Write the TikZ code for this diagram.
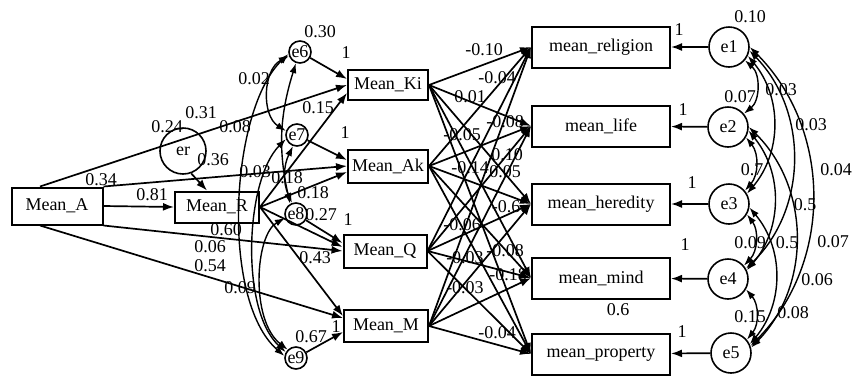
\documentclass[tikz,border=0pt]{standalone}
\usepackage{fontspec}
\setmainfont{Liberation Serif}
\usetikzlibrary{arrows.meta}
\begin{document}
\begin{tikzpicture}[x=1pt,y=-1pt,
  font=\fontsize{18}{20}\selectfont,
  box/.style={draw,line width=2pt,inner sep=0pt},
  circ/.style={draw,circle,line width=1.6pt,inner sep=0pt,minimum size=40pt},
  sc/.style={draw,circle,line width=1.6pt,inner sep=0pt,minimum size=22pt},
  arr/.style={-{Latex[length=11pt,width=8pt]},line width=1.7pt},
  cov/.style={{Latex[length=10pt,width=7pt]}-{Latex[length=10pt,width=7pt]},line width=1.4pt},
  lab/.style={inner sep=0pt}]
\useasboundingbox (0,0) rectangle (855,376);
% exogenous / mediators
\node[box,minimum width=91pt,minimum height=37pt] (MA) at (57,206) {Mean\_A};
\node[box,minimum width=84pt,minimum height=31pt] (MR) at (217,207) {Mean\_R};
\node[circ,minimum size=46pt] (er) at (183,151) {er};
\node[box,minimum width=80pt,minimum height=30pt] (Ki) at (388,85) {Mean\_Ki};
\node[box,minimum width=80pt,minimum height=33pt] (Ak) at (388,166) {Mean\_Ak};
\node[box,minimum width=83pt,minimum height=33pt] (Q) at (385,251) {Mean\_Q};
\node[box,minimum width=84pt,minimum height=32pt] (M) at (386,326) {Mean\_M};
\node[sc] (e6) at (300,52) {e6};
\node[sc] (e7) at (297,135) {e7};
\node[sc] (e8) at (296,214) {e8};
\node[sc] (e9) at (296,358) {e9};
% outcomes
\node[box,minimum width=138pt,minimum height=41pt] (rel) at (601,47) {mean\_religion};
\node[box,minimum width=138pt,minimum height=41pt] (life) at (601,126) {mean\_life};
\node[box,minimum width=138pt,minimum height=41pt] (her) at (601,204) {mean\_heredity};
\node[box,minimum width=138pt,minimum height=41pt] (mind) at (601,278) {mean\_mind};
\node[box,minimum width=138pt,minimum height=41pt] (prop) at (601,354) {mean\_property};
\node[circ] (e1) at (729,47) {e1};
\node[circ] (e2) at (728,127) {e2};
\node[circ] (e3) at (729,204) {e3};
\node[circ] (e4) at (728,279) {e4};
\node[circ] (e5) at (731,353) {e5};
% paths from Mean_A
\draw[arr] ([xshift=-17pt]MA.north) -- (Ki.west);
\draw[arr] (MA.north east) -- (Ak.west);
\draw[arr] (MA.east) -- (MR.west);
\draw[arr] (MA.south east) -- (Q.west);
\draw[arr] ([xshift=-17pt]MA.south) -- ([yshift=8pt]M.west);
\draw[arr] (er.-70) -- ([xshift=-10pt]MR.north);
% paths from Mean_R
\draw[arr] (MR.east) -- ([yshift=-8pt]Ki.west);
\draw[arr] (MR.east) -- ([yshift=-6pt]Ak.west);
\draw[arr] (MR.east) -- ([yshift=4pt]Q.west);
\draw[arr] (MR.east) -- ([yshift=10pt]M.west);
% disturbances
\draw[arr] (e6) -- ([yshift=6pt]Ki.west);
\draw[arr] (e7) -- ([yshift=6pt]Ak.west);
\draw[arr] (e8) -- ([yshift=8pt]Q.west);
\draw[arr] (e9) -- ([yshift=-6pt]M.west);
\draw[cov] (e6.200) to[bend right=60] (e7.160);
\draw[cov] (e6.190) .. controls (230,110) and (220,300) .. (e9.170);
\draw[cov] (e7.200) .. controls (245,180) and (240,310) .. (e9.150);
\draw[cov] (e8.200) .. controls (255,235) and (250,320) .. (e9.135);
\draw[cov] (e7.250) to[bend right=25] (e8.110);
\draw[cov] (e6.250) to[bend right=15] (e8.120);
% mediators to outcomes
\foreach \s in {Ki,Ak,Q,M}
  \foreach \t in {rel,life,her,mind,prop}
    \draw[arr] (\s.east) -- (\t.west);
% errors to outcomes
\draw[arr] (e1) -- (rel);
\draw[arr] (e2) -- (life);
\draw[arr] (e3) -- (her);
\draw[arr] (e4) -- (mind);
\draw[arr] (e5) -- (prop);
% covariances among errors
\draw[cov] (e1.-40) to[bend left=50] (e2.40);
\draw[cov] (e1.-25) to[bend left=40] (e3.30);
\draw[cov] (e1.-10) to[bend left=45] (e4.30);
\draw[cov] (e1.0) to[bend left=45] (e5.20);
\draw[cov] (e2.-30) to[bend left=40] (e3.40);
\draw[cov] (e2.-10) to[bend left=40] (e4.25);
\draw[cov] (e2.0) to[bend left=45] (e5.15);
\draw[cov] (e3.-30) to[bend left=40] (e4.40);
\draw[cov] (e3.-10) to[bend left=40] (e5.25);
\draw[cov] (e4.-30) to[bend left=40] (e5.40);
% labels left
\node[lab] (l1) at (320,32) {0.30};
\node[lab] (l2) at (346,53) {1};
\node[lab] (l3) at (254,79) {0.02};
\node[lab] (l4) at (201,113) {0.31};
\node[lab] (l5) at (167,127) {0.24};
\node[lab] (l6) at (235,127) {0.08};
\node[lab] (l7) at (318,108) {0.15};
\node[lab] (l8) at (345,133) {1};
\node[lab] (l9) at (213,160) {0.36};
\node[lab] (l10) at (101,180) {0.34};
\node[lab] (l11) at (255,172) {0.03};
\node[lab] (l12) at (287,178) {0.18};
\node[lab] (l13) at (313,193) {0.18};
\node[lab] (l14) at (152,195) {0.81};
\node[lab] (l15) at (321,215) {0.27};
\node[lab] (l16) at (348,220) {1};
\node[lab] (l17) at (226,230) {0.60};
\node[lab] (l18) at (210,247) {0.06};
\node[lab] (l19) at (210,266) {0.54};
\node[lab] (l20) at (315,258) {0.43};
\node[lab] (l21) at (240,288) {0.09};
\node[lab] (l22) at (311,337) {0.67};
\node[lab] (l23) at (336,327) {1};
% labels middle
\node[lab] (m1) at (484,50) {-0.10};
\node[lab] (m2) at (497,78) {-0.04};
\node[lab] (m3) at (470,97) {0.01};
\node[lab] (m4) at (505,122) {-0.08};
\node[lab] (m5) at (462,135) {-0.05};
\node[lab] (m6) at (507,155) {0.10};
\node[lab] (m7) at (470,168) {-0.14};
\node[lab] (m8) at (505,172) {0.05};
\node[lab] (m9) at (506,207) {-0.6};
\node[lab] (m10) at (462,225) {-0.06};
\node[lab] (m11) at (505,251) {-0.08};
\node[lab] (m12) at (465,258) {-0.03};
\node[lab] (m13) at (508,275) {-0.18};
\node[lab] (m14) at (465,288) {-0.03};
\node[lab] (m15) at (497,333) {-0.04};
% labels right
\node[lab] (r1) at (750,17) {0.10};
\node[lab] (r2) at (679,30) {1};
\node[lab] (r3) at (683,110) {1};
\node[lab] (r4) at (692,183) {1};
\node[lab] (r5) at (685,245) {1};
\node[lab] (r6) at (682,332) {1};
\node[lab] (r7) at (740,97) {0.07};
\node[lab] (r8) at (781,90) {0.03};
\node[lab] (r9) at (811,125) {0.03};
\node[lab] (r10) at (752,170) {0.7};
\node[lab] (r11) at (836,170) {0.04};
\node[lab] (r12) at (805,205) {0.5};
\node[lab] (r13) at (750,243) {0.09};
\node[lab] (r14) at (787,243) {0.5};
\node[lab] (r15) at (833,242) {0.07};
\node[lab] (r16) at (817,280) {0.06};
\node[lab] (r17) at (750,317) {0.15};
\node[lab] (r18) at (793,313) {0.08};
\node[lab] (r19) at (618,310) {0.6};
\end{tikzpicture}
\end{document}
